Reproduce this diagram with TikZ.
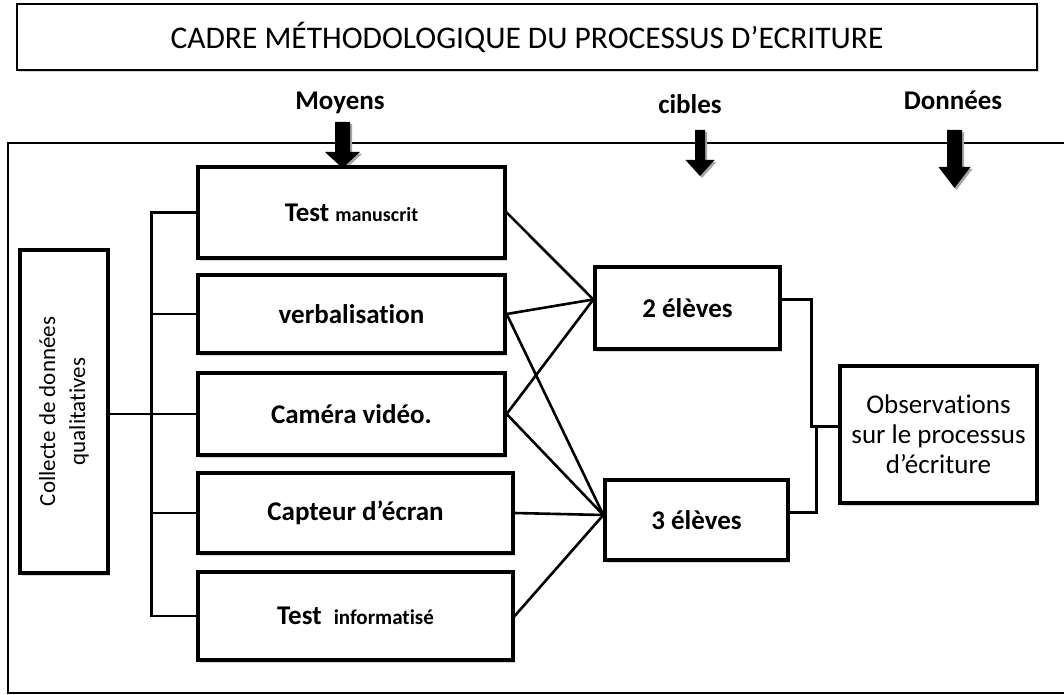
\documentclass[tikz,border=0pt]{standalone}
\usepackage{fontspec}
\setmainfont{Carlito}[Ligatures=NoCommon]
\usetikzlibrary{shadows,calc}

% block arrow pointing down: centre x, top y, shaft width, y where the head starts, head width, tip y
\newcommand\blkarrow[6]{%
  \fill[black!35] ($(#1-#3/2,#2)+(2,2)$) -- ($(#1+#3/2,#2)+(2,2)$) -- ($(#1+#3/2,#4)+(2,2)$) -- ($(#1+#5/2,#4)+(2,2)$)
     -- ($(#1,#6)+(2,2)$) -- ($(#1-#5/2,#4)+(2,2)$) -- ($(#1-#3/2,#4)+(2,2)$) -- cycle;
  \fill[black] (#1-#3/2,#2) -- (#1+#3/2,#2) -- (#1+#3/2,#4) -- (#1+#5/2,#4)
     -- (#1,#6) -- (#1-#5/2,#4) -- (#1-#3/2,#4) -- cycle;}

\begin{document}
\begin{tikzpicture}[x=1pt,y=-1pt,
  box/.style={draw, line width=3.3pt, fill=white, inner sep=0pt, align=center,
    drop shadow={shadow xshift=2pt, shadow yshift=-2.5pt, opacity=0.3}},
  boxtext/.style={font=\bfseries\fontsize{27}{30}\selectfont},
  lab/.style={font=\bfseries\fontsize{27}{30}\selectfont, inner sep=0pt},
  conn/.style={line width=2.6pt, line cap=rect}
]
\useasboundingbox (0,0) rectangle (1064,695);

% title
\node[box, line width=2.8pt, minimum width=1020pt, minimum height=66pt,
  font=\fontsize{31.5}{34}\selectfont] (title) at (527,37) {CADRE MÉTHODOLOGIQUE DU PROCESSUS D’ECRITURE};

% column headings
\node[lab] (moyens) at (340,103) {Moyens};
\node[lab] (cibles) at (690,104) {cibles};
\node[lab] (donnees) at (953,100) {Données};

% outer frame, open on the right
\draw[line width=2.6pt] (1064,143) -- (8,143) -- (8,693) -- (1064,693);

% down arrows under the headings
\blkarrow{342.5}{122}{15}{152}{35}{168}
\blkarrow{700}{130}{10}{160}{29}{176}
\blkarrow{954.5}{130}{15}{167}{32}{188}

% collection node
\node[box, minimum width=88pt, minimum height=323pt] (col) at (64,411.5) {};
\node[rotate=90, align=center, font=\fontsize{23}{30}\selectfont] (coltext) at (col.center)
  {Collecte de données\\qualitatives};

% means
\node[box, boxtext, minimum width=307pt, minimum height=91pt] (tm) at (351.5,212.5)
  {Test {\fontsize{20}{22}\selectfont manuscrit}};
\node[box, boxtext, minimum width=307pt, minimum height=78pt] (verb) at (351.5,314) {verbalisation};
\node[box, boxtext, minimum width=307pt, minimum height=82pt] (cam) at (351.5,414) {Caméra vidéo.};
\node[box, boxtext, minimum width=315pt, minimum height=80pt] (capt) at (355.5,513) {Capteur d’écran};
\node[box, boxtext, minimum width=315pt, minimum height=88pt] (ti) at (355.5,616)
  {Test \ {\fontsize{21}{24}\selectfont informatisé}};

% targets
\node[box, boxtext, minimum width=185pt, minimum height=82pt] (el2) at (687.5,308) {2 élèves};
\node[box, boxtext, minimum width=183pt, minimum height=80pt] (el3) at (696.5,520) {3 élèves};

% result
\node[box, minimum width=197pt, minimum height=137pt, align=center,
  font=\fontsize{27}{30}\selectfont] (obs) at (938.5,434.5)
  {Observations\\sur le processus\\d’écriture};

% anchor points on the box sides
\coordinate (in2) at ($(el2.north west)!0.4!(el2.south west)$);
\coordinate (in3) at ($(el3.north west)!0.44!(el3.south west)$);
\coordinate (out2) at ($(el2.north east)!0.4!(el2.south east)$);
\coordinate (out3) at ($(el3.north east)!0.41!(el3.south east)$);
\coordinate (jn) at ($(obs.north west)!0.445!(obs.south west)$);

% bracket from the collection node to the means
\draw[conn] (tm.west) -- ++(-45,0) |- (ti.west);
\draw[conn] (verb.west) -- ++(-45,0);
\draw[conn] (capt.west) -- ++(-45,0);
\draw[conn] (col.east |- cam.west) -- (cam.west);

% means to targets
\draw[conn] (tm.east) -- (in2);
\draw[conn] (verb.east) -- (in2);
\draw[conn] (verb.east) -- (in3);
\draw[conn] (cam.east) -- (in2);
\draw[conn] (cam.east) -- (in3);
\draw[conn] (capt.east) -- (in3);
\draw[conn] (ti.east) -- (in3);

% targets to observations
\draw[conn] (out2) -- ++(30,0) |- (jn);
\draw[conn] (out3) -- ++(27,0) |- (jn);
\end{tikzpicture}
\end{document}
